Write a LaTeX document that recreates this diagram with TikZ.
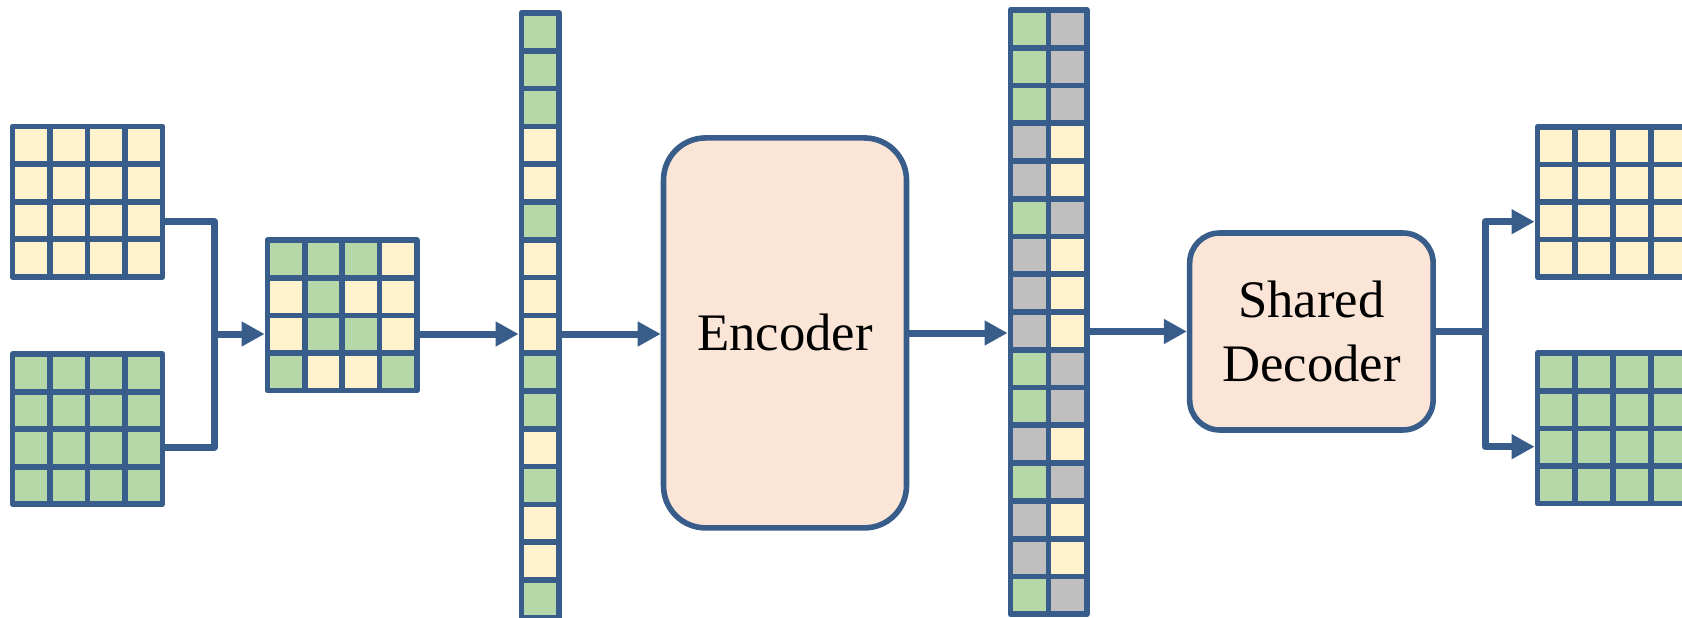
\documentclass[tikz,border=0pt]{standalone}
\usepackage{fontspec}
\setmainfont{Liberation Serif}
\usetikzlibrary{arrows.meta,fit}
\definecolor{cY}{HTML}{FFF2CC}
\definecolor{cG}{HTML}{B6D7A8}
\definecolor{cK}{HTML}{BFBFBF}
\definecolor{cB}{HTML}{385D8A}
\definecolor{cP}{HTML}{FBE5D6}
\newcommand{\drawgrid}[8]{% name, x0, y0, dx, dy, ncols, nrows, colors
  \foreach \cc [count=\k from 0] in {#8} {
    \pgfmathtruncatemacro{\rr}{floor(\k/#6)}
    \pgfmathtruncatemacro{\qq}{mod(\k,#6)}
    \filldraw[cellst, fill=\cc] ({#2+\qq*#4},{#3+\rr*#5}) rectangle ++(#4,#5);
  }
  \node[gridnode, fit={(#2,#3) ({#2+#6*#4},{#3+#7*#5})}] (#1) {};
}
\begin{document}
\begin{tikzpicture}[x=0.02cm, y=-0.02cm,
  cellst/.style={draw=cB, line width=0.115cm, line join=round},
  gridnode/.style={inner sep=0pt, outer sep=0.0575cm},
  conn/.style={draw=cB, line width=0.14cm, line join=round},
  arr/.style={conn, -{Triangle[length=0.46cm, width=0.47cm]}},
  box/.style={draw=cB, fill=cP, line width=0.112cm, align=center,
    font=\fontsize{30}{36.3}\selectfont, inner sep=0pt}]
\useasboundingbox (0,0) rectangle (1682,618);
\clip (0,0) rectangle (1682,618);

% input grids
\drawgrid{ga}{12.5}{126.5}{37.5}{37.6}{4}{4}{cY,cY,cY,cY,cY,cY,cY,cY,cY,cY,cY,cY,cY,cY,cY,cY}
\drawgrid{gb}{12.5}{354.2}{37.5}{37.5}{4}{4}{cG,cG,cG,cG,cG,cG,cG,cG,cG,cG,cG,cG,cG,cG,cG,cG}
% mixed grid
\drawgrid{gm}{267.5}{240.2}{37.3}{37.6}{4}{4}{cG,cG,cG,cY,cY,cG,cY,cY,cY,cG,cG,cY,cG,cY,cY,cG}
% token vector
\drawgrid{vec}{521.5}{13}{37.7}{37.8}{1}{16}{cG,cG,cG,cY,cY,cG,cY,cY,cY,cG,cG,cY,cG,cY,cY,cG}
% latent (two columns)
\drawgrid{lat}{1010.5}{10}{38.1}{37.76}{2}{16}{cG,cK,cG,cK,cG,cK,cK,cY,cK,cY,cG,cK,cK,cY,cK,cY,cK,cY,cG,cK,cG,cK,cK,cY,cG,cK,cK,cY,cK,cY,cG,cK}
% output grids
\drawgrid{outa}{1537.5}{126.8}{37.7}{37.6}{4}{4}{cY,cY,cY,cY,cY,cY,cY,cY,cY,cY,cY,cY,cY,cY,cY,cY}
\drawgrid{outb}{1537.5}{353.2}{37.7}{37.6}{4}{4}{cG,cG,cG,cG,cG,cG,cG,cG,cG,cG,cG,cG,cG,cG,cG,cG}

% boxes
\node[box, minimum width=4.86cm, minimum height=7.8cm, rounded corners=0.84cm] (enc) at (785,332.9) {Encoder};
\node[box, minimum width=4.87cm, minimum height=3.94cm, rounded corners=0.6cm] (dec) at (1311.4,331.5) {Shared\\Decoder};

% connectors
\coordinate (ja1) at (214.5,221.7);
\coordinate (ja2) at (214.5,447);
\coordinate (j1) at (214.5,334);
\coordinate (m2) at (0,333);
\coordinate (m3) at (0,331.5);
\coordinate (jb1) at (1485,221.7);
\coordinate (jb2) at (1485,446.7);
\coordinate (jb) at (1485,331.5);

\draw[conn] (ga.east |- ja1) -- (ja1) -- (ja2) -- (gb.east |- ja2);
\draw[arr] (j1) -- (gm.west |- j1);
\draw[arr] (gm.east |- j1) -- (vec.west |- j1);
\draw[arr] (vec.east |- j1) -- (enc.west |- j1);
\draw[arr] (enc.east |- m2) -- (lat.west |- m2);
\draw[arr] (lat.east |- m3) -- (dec.west |- m3);
\draw[conn] (dec.east |- jb) -- (jb);
\draw[arr] (jb) -- (jb1) -- (outa.west |- jb1);
\draw[arr] (jb) -- (jb2) -- (outb.west |- jb2);
\end{tikzpicture}
\end{document}
